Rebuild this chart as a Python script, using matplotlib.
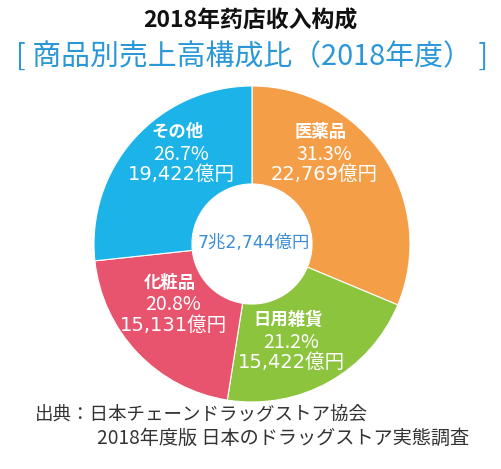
import matplotlib
matplotlib.use("Agg")
import matplotlib.pyplot as plt

# ---- data ----
categories = ["医薬品", "日用雑貨", "化粧品", "その他"]
shares = [31.3, 21.2, 20.8, 26.7]
amounts = ["22,769億円", "15,422億円", "15,131億円", "19,422億円"]
total_label = "7兆2,744億円"
colors = ["#F59E48", "#8CC43E", "#E8536D", "#1CB3E8"]

title = "2018年药店收入构成"
subtitle = "[ 商品別売上高構成比（2018年度） ]"
source1 = "出典：日本チェーンドラッグストア協会"
source2 = "2018年度版 日本のドラッグストア実態調査"

W, H = 502, 469
fig = plt.figure(figsize=(W / 100, H / 100), dpi=100)
ax = fig.add_axes([0, 0, 1, 1])

cx, cy, R = 252, H - 244, 158
ax.pie(shares, colors=colors, startangle=90, counterclock=False,
       center=(cx, cy), radius=R, frame=True,
       wedgeprops=dict(width=R * 0.62, edgecolor="white", linewidth=0.8))
ax.set_xlim(0, W)
ax.set_ylim(0, H)
ax.set_aspect("equal")
ax.axis("off")

jp = ["Noto Sans CJK JP", "DejaVu Sans"]
sc = ["Noto Sans CJK SC", "DejaVu Sans"]
num = ["DejaVu Sans", "Noto Sans CJK JP"]

def T(x, y, s, **kw):
    ax.text(x, H - y, s, ha="center", va="center", **kw)

T(250, 21, title, fontsize=16.5, fontweight="bold", color="#111111", family=sc)
T(252, 57, subtitle, fontsize=20.8, color="#2A97D8", family=jp)

# segment labels (image coords of name line)
label_pos = [(321, 132), (288, 320), (170, 283), (178, 132)]
for (x, y), name, pct, amt in zip(label_pos, categories, shares, amounts):
    T(x, y, name, fontsize=12.5, fontweight="bold", color="white", family=jp)
    T(x + 3, y + 22, f"{pct:.1f}%", fontsize=14, color="white", family=jp)
    T(x + 3, y + 42, amt, fontsize=14, color="white", family=num)

T(254, 243, total_label, fontsize=12.5, color="#3B8ED6", family=num)

ax.text(35, H - 414, source1, ha="left", va="center", fontsize=13.3,
        color="#333333", family=jp)
ax.text(97, H - 438, source2, ha="left", va="center", fontsize=13.8,
        color="#333333", family=jp)

fig.savefig("out.png", dpi=100, facecolor="white")
